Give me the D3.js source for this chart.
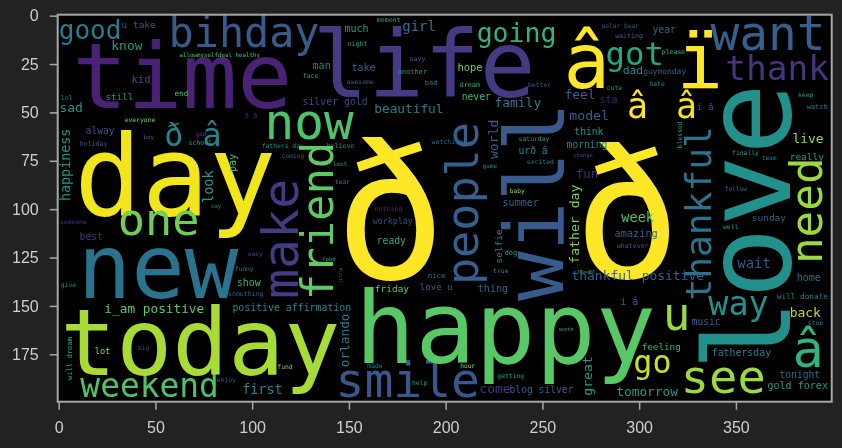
<!DOCTYPE html>
<html>
<head>
<meta charset="utf-8">
<script src="https://cdn.jsdelivr.net/npm/d3@7"></script>
<style>
  html, body { margin: 0; padding: 0; background: #222222; }
  svg { display: block; }
  .tick text { font-family: "Liberation Sans", Arial, sans-serif; font-size: 16px; fill: #cfcfcf; }
  .tick line { stroke: #a8a8a8; stroke-width: 1.5; }
</style>
</head>
<body>
<svg id="chart" width="842" height="448"></svg>
<script>
// word cloud layout, in image pixel units (400 x 200)
const words = [
  "good","u take","bihday","know","allowmyselfdeal healthy","time","kid","lol","still","end",
  "sad","everyone","â â","ð â","alway","boy","god","holiday","school","fathers day",
  "believe","coming","say","day","now","life","silver gold","much","night","man",
  "take","face","awesome","moment","girl","going","navy","another","hope","bad",
  "dream","better","never","family","beautiful","watching","saturday","urð â","excited","game",
  "lost","tear","baby","summer","nothing","workplay","ready","food","friday","love u",
  "thing","nice","positive affirmation","i_am positive","lot","big","weekend","first","show","something",
  "funny","easy","best","someone","give","fund","enjoy","one","new","today",
  "will dream","smile","happy","help","made","hour","getting","come","blog silver","orlando",
  "little","selfie","true","dog","people","will","world","ð","ð","â",
  "ï","got","polar bear","waiting","year","please","dad","guymonday","cute","hate",
  "feel","sta","â","â","i â","model","think","morning","change","fun",
  "father day","thankful","blessed","want","thank","love","need","live","really","keep",
  "watch","finally","team","follow","sunday","well","week","amazing","whatever","wait",
  "home","thought","thankful positive","i â","will donate","way","u","back","stop","music",
  "fathersday","â","tonight","gold forex","see","go","feeling","tomorrow","great","month",
  "happiness","look","pay","make","friend"
];

// start of the text run (left edge, or baseline for vertical words)
const wordX = [
  0.5, 33.0, 57.3, 27.7, 63.0, 7.6, 38.1, 1.6, 24.7, 60.4,
  0.85, 34.6, 96.7, 55.1, 14.4, 44.4, 71.4, 11.4, 67.6, 105.4,
  139, 115.8, 79.1, 8.6, 106.9, 131.6, 126.5, 148.2, 149.9, 131.7,
  151.8, 126.6, 149.4, 164.9, 178.1, 216.5, 182, 175.7, 206.6, 189.7,
  207.7, 243, 208.8, 225.7, 163.6, 193.2, 238.2, 238.2, 242.5, 219.6,
  142.1, 143.2, 233.6, 229.9, 163.9, 162.8, 164.9, 136.6, 163.9, 187.1,
  217.1, 191.2, 90.3, 24.1, 19.1, 41.5, 11.7, 95.4, 92.5, 88,
  91.6, 98.3, 11.3, 1.1, 1.6, 113.5, 82.2, 31.0, 10.3, 1.3,
  7.4, 143.6, 153.6, 183.1, 160, 208, 227.2, 217.9, 233.5, 150.6,
  147, 229.6, 225, 231, 217.2, 261.1, 227.5, 143, 266.7, 261.4,
  319.8, 283.1, 281.1, 288.1, 307.4, 312.1, 292, 302.6, 283.8, 305.8,
  261.9, 280, 294.2, 319.5, 330.2, 264.4, 267, 263, 266.4, 267.8,
  269.4, 337.6, 322.6, 337.4, 345, 378.4, 395, 379.7, 378.3, 382.6,
  387.1, 348.5, 363.8, 344.7, 358.7, 343.8, 291.3, 287.8, 289, 351.2,
  381.9, 268.5, 265.5, 290.7, 371.6, 336.2, 312.7, 378.3, 387.6, 327.6,
  338, 379.7, 373, 366.8, 322, 297.5, 301.8, 288.7, 276.1, 259,
  6.4, 80.3, 92.2, 124.2, 142.3
];

// baseline (or bottom start for vertical words)
const wordY = [
  12.6, 6.9, 16.8, 18.2, 21.9, 48.2, 35.3, 44.1, 44.1, 42.0,
  50.3, 55.5, 53.4, 67.9, 61.7, 64.2, 62.7, 67.9, 67.3, 68.9,
  68.9, 74.1, 99.9, 103.5, 64.2, 42.5, 46.7, 8.9, 16.2, 28.1,
  29.1, 32.7, 35.8, 3.8, 8.4, 14.1, 23.9, 30.6, 29.1, 36.4,
  37.4, 37.4, 44.1, 47.7, 50.8, 66.8, 65.3, 72.0, 77.2, 79.2,
  78.2, 87.5, 92.1, 98.9, 101.4, 108.2, 118.5, 127.3, 143.3, 142.3,
  143.3, 136.1, 153.1, 154.2, 175.4, 173.3, 197.6, 196.0, 140.2, 145.4,
  132.5, 124.7, 116.4, 108.2, 140.7, 183.1, 189.8, 113.9, 146.4, 186.2,
  188.8, 197.6, 180.0, 191.4, 182.6, 182.6, 187.7, 195.5, 195.5, 182.2,
  138.7, 128.6, 133.5, 124.2, 139.7, 148.0, 74.6, 136.3, 136.3, 37.9,
  37.9, 26.0, 6.9, 12, 9.5, 20.3, 30.6, 30.6, 38.9, 37,
  43.6, 45.7, 53.4, 53.4, 49.3, 54.4, 62.2, 68.9, 73.5, 84.4,
  128.7, 147.7, 69, 18.2, 33.7, 184.1, 128.9, 66.3, 75.1, 42.5,
  48.7, 72.5, 75.1, 91.1, 106.6, 110.8, 107.2, 114.9, 120.6, 131,
  137.6, 133.5, 137.1, 150, 146.9, 155.2, 163, 156.3, 160.4, 160.4,
  176.4, 182, 187.8, 193.4, 195.6, 185.2, 173.3, 197.1, 196.9, 163.6,
  96.3, 97.3, 81.3, 146.9, 147.6
];

const wordSize = [
  13.5, 4.9, 21.6, 6.7, 3.0, 47.2, 5.5, 3.4, 4.8, 3.9,
  6.7, 3.3, 3.6, 16.4, 5.0, 3.0, 3.0, 3.4, 3.4, 3.3,
  3.4, 3.2, 3.0, 57.8, 25.5, 47.9, 5.1, 5.2, 3.4, 5.2,
  5.2, 3.4, 3.3, 3.4, 7.2, 13.7, 3.3, 3.6, 5.4, 3.6,
  3.5, 3.3, 5.0, 6.7, 6.6, 3.4, 3.3, 5.0, 3.3, 3.1,
  3.1, 3.2, 3.2, 5.2, 3.4, 4.3, 5.0, 2.9, 4.9, 4.7,
  5.2, 3.8, 5.1, 6.6, 4.5, 3.2, 17.0, 6.9, 5.2, 3.4,
  3.2, 3.2, 5.0, 3.3, 3.3, 3.3, 3.3, 23.4, 46, 48.1,
  3.7, 24.8, 51.7, 3.3, 3.3, 3.2, 3.3, 6.7, 5.0, 6.6,
  2.2, 4.9, 3.3, 3.6, 23.3, 42.7, 6.8, 96, 92, 40,
  40, 16.7, 3.2, 3.4, 5.0, 3.4, 5.8, 4.1, 3.3, 3.3,
  6.7, 5.2, 18, 18, 4.9, 6.8, 5.0, 5.0, 2.8, 6.4,
  6.8, 18.7, 3.3, 24.7, 17.8, 61.8, 22.9, 6.7, 4.9, 3.3,
  3.6, 3.3, 3.2, 3.2, 4.9, 3.3, 7.0, 5.3, 3.4, 7.2,
  5.2, 2.2, 6.7, 5.2, 4.0, 17.3, 23.8, 6.7, 3.3, 5.0,
  5.1, 26.9, 5.0, 5.2, 24.3, 16.4, 4.8, 6.6, 6.8, 2.5,
  6.9, 7.0, 5.2, 25.8, 22.7
];

// 1 = turned to read bottom to top
const wordVertical = [
  0,0,0,0,0,0,0,0,0,0,
  0,0,0,0,0,0,0,0,0,0,
  0,0,0,0,0,0,0,0,0,0,
  0,0,0,0,0,0,0,0,0,0,
  0,0,0,0,0,0,0,0,0,0,
  0,0,0,0,0,0,0,0,0,0,
  0,0,0,0,0,0,0,0,0,0,
  0,0,0,0,0,0,0,0,0,0,
  1,0,0,0,0,0,0,0,0,1,
  1,1,0,0,1,1,1,0,0,0,
  0,0,0,0,0,0,0,0,0,0,
  0,0,0,0,0,0,0,0,0,0,
  1,1,1,0,0,1,1,0,0,0,
  0,0,0,0,0,0,0,0,0,0,
  0,0,0,0,0,0,0,0,0,0,
  0,0,0,0,0,0,0,0,1,0,
  1,1,1,1,1
];

// position on the viridis map
const wordShade = [
  0.42, 0.25, 0.28, 0.55, 0.72, 0.1, 0.22, 0.45, 0.5, 0.72,
  0.5, 0.8, 0.12, 0.45, 0.25, 0.3, 0.2, 0.25, 0.55, 0.5,
  0.5, 0.3, 0.45, 0.98, 0.72, 0.17, 0.22, 0.55, 0.6, 0.42,
  0.3, 0.55, 0.3, 0.6, 0.38, 0.65, 0.3, 0.5, 0.78, 0.4,
  0.62, 0.3, 0.68, 0.42, 0.42, 0.3, 0.55, 0.45, 0.42, 0.45,
  0.55, 0.42, 0.85, 0.32, 0.12, 0.22, 0.6, 0.6, 0.75, 0.3,
  0.32, 0.4, 0.45, 0.75, 0.8, 0.2, 0.72, 0.45, 0.65, 0.3,
  0.42, 0.22, 0.15, 0.15, 0.45, 0.8, 0.3, 0.78, 0.38, 0.87,
  0.6, 0.27, 0.74, 0.55, 0.4, 0.85, 0.55, 0.15, 0.3, 0.42,
  0.45, 0.45, 0.5, 0.6, 0.3, 0.28, 0.3, 1.0, 1.0, 1.0,
  1.0, 0.6, 0.3, 0.3, 0.3, 0.62, 0.5, 0.3, 0.55, 0.45,
  0.3, 0.1, 1.0, 0.98, 0.3, 0.3, 0.5, 0.45, 0.2, 0.12,
  0.8, 0.38, 0.55, 0.3, 0.15, 0.5, 0.85, 0.85, 0.55, 0.55,
  0.4, 0.55, 0.4, 0.3, 0.3, 0.55, 0.72, 0.3, 0.3, 0.28,
  0.35, 0.72, 0.3, 0.3, 0.42, 0.5, 0.85, 0.9, 0.42, 0.3,
  0.42, 0.65, 0.35, 0.55, 0.85, 0.92, 0.65, 0.55, 0.55, 0.65,
  0.55, 0.55, 0.7, 0.17, 0.75
];

const xTicks = [0, 50, 100, 150, 200, 250, 300, 350];
const yTicks = [0, 25, 50, 75, 100, 125, 150, 175];

const svg = d3.select("#chart");

// image extent: pixel centres run 0..399 / 0..199
const x = d3.scaleLinear().domain([-0.5, 399.5]).range([57.7, 831.7]);
const y = d3.scaleLinear().domain([-0.5, 199.5]).range([14.7, 401.7]);
const k = x(1) - x(0);
const colour = d3.scaleSequential(d3.interpolateViridis).domain([0, 1]);

const defs = svg.append("defs");
defs.append("clipPath").attr("id", "imgclip")
    .append("rect")
    .attr("x", x(-0.5)).attr("y", y(-0.5))
    .attr("width", x(399.5) - x(-0.5))
    .attr("height", y(199.5) - y(-0.5));
defs.append("filter").attr("id", "soft")
    .append("feGaussianBlur").attr("stdDeviation", 0.6);

// black image background
svg.append("rect")
    .attr("x", x(-0.5)).attr("y", y(-0.5))
    .attr("width", x(399.5) - x(-0.5))
    .attr("height", y(199.5) - y(-0.5))
    .attr("fill", "#000");

const cloud = svg.append("g")
    .attr("clip-path", "url(#imgclip)")
    .append("g")
    .attr("filter", "url(#soft)");

cloud.selectAll("text")
    .data(d3.range(words.length))
    .enter()
    .append("text")
    .attr("transform", i => {
        const px = x(wordX[i] - 0.5), py = y(wordY[i] - 0.5);
        return "translate(" + px + "," + py + ")" + (wordVertical[i] ? " rotate(-90)" : "");
    })
    .attr("font-family", "'DejaVu Sans Mono', monospace")
    .attr("font-size", i => wordSize[i] * k)
    .attr("fill", i => colour(wordShade[i]))
    .style("white-space", "pre")
    .text(i => words[i]);

// axes
const xAxis = d3.axisBottom(x).tickValues(xTicks).tickSize(8).tickSizeOuter(0).tickPadding(12);
svg.append("g")
    .attr("transform", "translate(0," + y(199.5) + ")")
    .call(xAxis)
    .call(g => g.select(".domain").remove());

const yAxis = d3.axisLeft(y).tickValues(yTicks).tickSize(8).tickSizeOuter(0).tickPadding(11);
svg.append("g")
    .attr("transform", "translate(" + x(-0.5) + ",0)")
    .call(yAxis)
    .call(g => g.select(".domain").remove());

// frame
svg.append("rect")
    .attr("x", x(-0.5)).attr("y", y(-0.5))
    .attr("width", x(399.5) - x(-0.5))
    .attr("height", y(199.5) - y(-0.5))
    .attr("fill", "none")
    .attr("stroke", "#a8a8a8")
    .attr("stroke-width", 2);
</script>
</body>
</html>
